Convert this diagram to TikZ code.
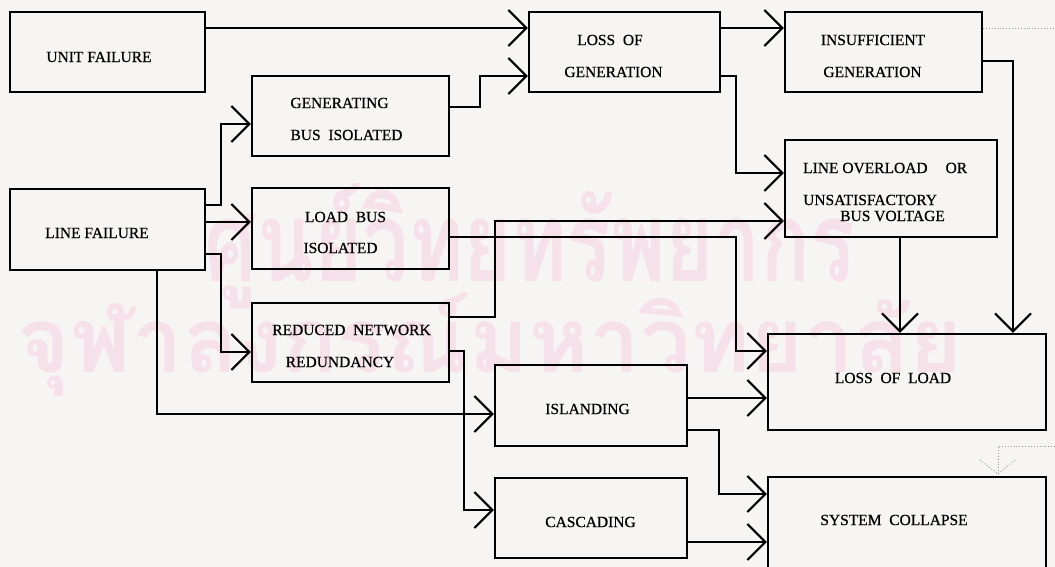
\documentclass[tikz,border=0pt]{standalone}
\usepackage{fontspec}
\setmainfont{Liberation Serif}
\newfontfamily\lblfont[FakeBold=0.6]{Liberation Serif}
\newfontfamily\thaifont[Script=Thai]{Loma}
\usetikzlibrary{arrows.meta}
\definecolor{paper}{RGB}{246,245,243}
\definecolor{wm}{RGB}{246,224,233}
\definecolor{dotc}{RGB}{150,150,150}
\begin{document}
\begin{tikzpicture}[x=1pt,y=-1pt,
  box/.style 2 args={draw, rectangle, line width=2.1pt, inner sep=0pt,
    minimum width=#1pt, minimum height=#2pt},
  lbl/.style={font=\lblfont\fontsize{15.5}{18}\selectfont, inner sep=0pt},
  conn/.style={line width=2.1pt, line join=miter},
  arr/.style={conn, -{Straight Barb[length=18pt,width=36pt]}},
  dotline/.style={dotc, line width=0.9pt, dotted},
  wmtext/.style={text=wm, inner sep=0pt, font=\thaifont\bfseries}]
\clip (0,0) rectangle (1055,567);
\fill[paper] (0,0) rectangle (1055,567);
% watermark
\node[wmtext] (wm1) at (530,246) {\scalebox{1}[1.35]{\resizebox{650pt}{!}{ศูนย์วิทยทรัพยากร}}};
\node[wmtext] (wm2) at (490,345) {\resizebox{945pt}{!}{จุฬาลงกรณ์มหาวิทยาลัย}};
% boxes
\node[box={195}{80}] (uf) at (107.5,52) {};
\node[box={195}{81}] (lf) at (107.5,229.5) {};
\node[box={197}{80}] (gb) at (350.5,116) {};
\node[box={197}{81}] (lb) at (350.5,228.5) {};
\node[box={197}{79}] (rn) at (350.5,342.5) {};
\node[box={191}{80}] (lg) at (624.5,52) {};
\node[box={197}{80}] (ig) at (883.5,52) {};
\node[box={212}{97}] (lo) at (891,188.5) {};
\node[box={278}{96}] (ll) at (907,382) {};
\node[box={192}{81}] (is) at (591,405.5) {};
\node[box={192}{80}] (cs) at (591,518) {};
\node[box={278}{132}] (sc) at (907,543) {};
% labels
\node[lbl] (t1) at (99,57) {UNIT FAILURE};
\node[lbl] (t2) at (339.5,103) {GENERATING};
\node[lbl] (t3) at (346.5,135) {BUS\ \ ISOLATED};
\node[lbl] (t4) at (97,233) {LINE FAILURE};
\node[lbl] (t5) at (345.5,217) {LOAD\ \ BUS};
\node[lbl] (t6) at (340.5,248) {ISOLATED};
\node[lbl] (t7) at (351.5,330) {REDUCED\ \ NETWORK};
\node[lbl] (t8) at (340,362) {REDUNDANCY};
\node[lbl] (t9) at (610,40) {LOSS\ \ OF};
\node[lbl] (t10) at (613.5,72) {GENERATION};
\node[lbl] (t11) at (873,40) {INSUFFICIENT};
\node[lbl] (t12) at (872.5,72) {GENERATION};
\node[lbl, anchor=west] (t13) at (803,168) {LINE OVERLOAD\hspace{18pt}OR};
\node[lbl, anchor=west] (t14) at (803,200) {UNSATISFACTORY};
\node[lbl, anchor=east] (t15) at (945,216) {BUS VOLTAGE};
\node[lbl] (t16) at (893,378) {LOSS\ \ OF\ \ LOAD};
\node[lbl] (t17) at (587.5,409) {ISLANDING};
\node[lbl] (t18) at (590.5,522) {CASCADING};
\node[lbl] (t19) at (894,520) {SYSTEM\ \ COLLAPSE};
% connectors
\draw[arr] (uf.east |- 0,28) -- (lg.west |- 0,28);
\draw[arr] (gb.east |- 0,107) -| (480,76) -- (lg.west |- 0,76);
\draw[arr] (lf.east |- 0,205) -| (221,124) -- (gb.west |- 0,124);
\draw[arr] (lf.east |- 0,222) -- (lb.west |- 0,222);
\draw[arr] (lf.east |- 0,254) -| (221,352) -- (rn.west |- 0,352);
\draw[arr] (lf.south -| 157,0) |- (is.west |- 0,414);
\draw[arr] (rn.east |- 0,317) -| (495,221) -- (lo.west |- 0,221);
\draw[arr] (lb.east |- 0,237) -| (736,351) -- (ll.west |- 0,351);
\draw[arr] (lg.east |- 0,76) -| (736,173) -- (lo.west |- 0,173);
\draw[arr] (lg.east |- 0,28) -- (ig.west |- 0,28);
\draw[arr] (rn.east |- 0,351) -| (464,510) -- (cs.west |- 0,510);
\draw[arr] (is.east |- 0,398) -- (ll.west |- 0,398);
\draw[arr] (is.east |- 0,430) -| (719,494) -- (sc.west |- 0,494);
\draw[arr] (cs.east |- 0,542) -- (sc.west |- 0,542);
\draw[arr] (lo.south -| 900,0) -- (ll.north -| 900,0);
\draw[arr] (ig.east |- 0,61) -| (ll.north -| 1013,0);
% faint dotted lines
\coordinate (e1) at (1055,28);
\coordinate (e2) at (1055,446);
\draw[dotline] (ig.east |- 0,28) -- (e1);
\draw[dotline] (e2) -| ([yshift=2pt]sc.north -| 998,0);
\draw[dotline] (980,460) -- ([yshift=2pt]sc.north -| 998,0) -- (1015,460);
\end{tikzpicture}
\end{document}
